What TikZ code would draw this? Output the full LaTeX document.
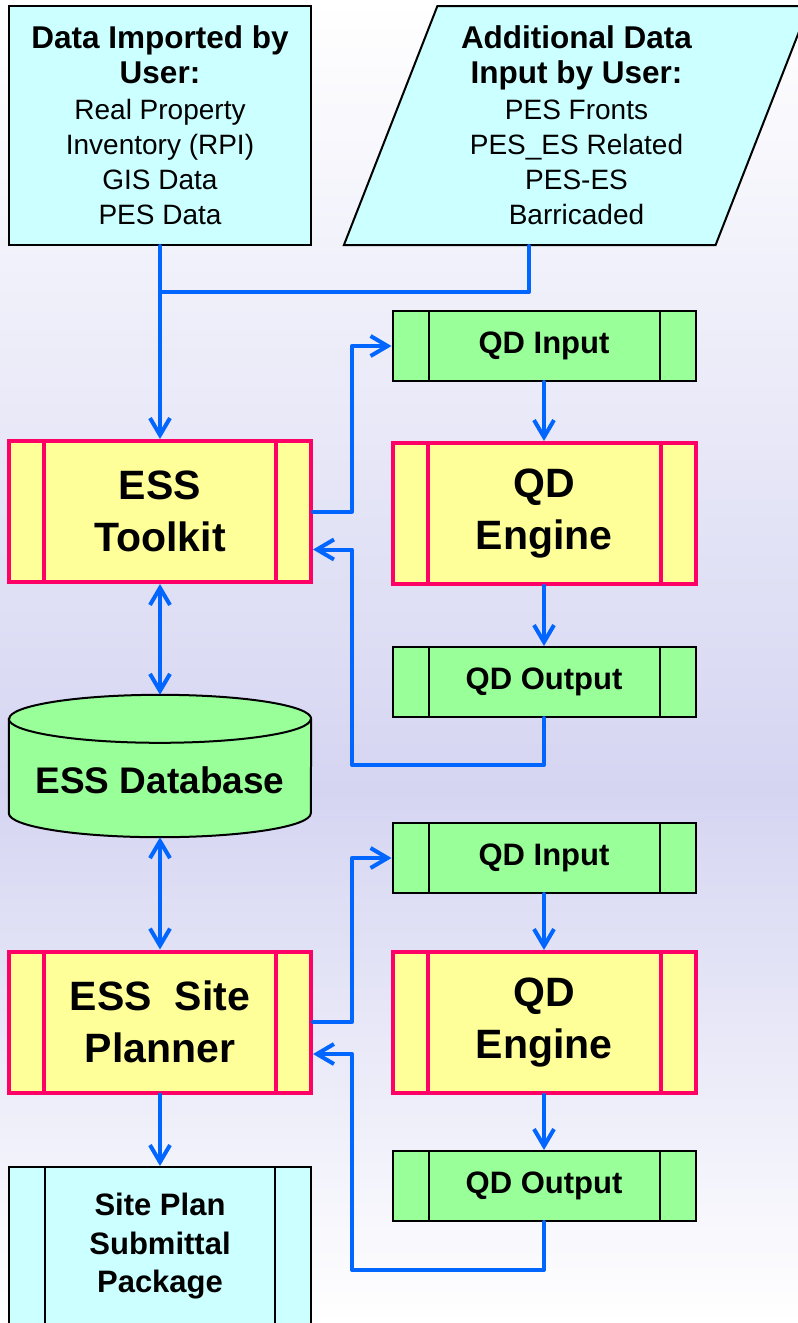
\documentclass[tikz,border=0pt]{standalone}
\usepackage{fontspec}
\setmainfont{Liberation Sans}
\usetikzlibrary{positioning}
\usetikzlibrary{calc}
\usetikzlibrary{arrows.meta}
\usetikzlibrary{shapes.geometric}
\definecolor{flowcolor}{RGB}{0, 102, 255}
\definecolor{modulecolor}{RGB}{255, 0, 102}
\definecolor{modulefill}{RGB}{255, 255, 153}
\definecolor{datafill}{RGB}{204, 255, 255}
\definecolor{qdfill}{RGB}{153, 255, 153}
\definecolor{bgmid}{RGB}{213, 213, 242}
\tikzstyle{flow} = [-{Straight Barb[length=17pt, width=20pt]}, line width=4pt, flowcolor, line cap=round, line join=round]
\tikzstyle{bothflow} = [{Straight Barb[length=17pt, width=20pt]}-{Straight Barb[length=17pt, width=20pt]}, line width=4pt, flowcolor, line cap=round, line join=round]
\tikzstyle{link} = [line width=4pt, flowcolor, line cap=round, line join=round]
\tikzstyle{module} = [draw=modulecolor, line width=4pt, fill=modulefill, minimum width=302, minimum height=141, inner sep=0pt, align=center, font=\fontsize{41}{52}\selectfont\bfseries]
\tikzstyle{modulebar} = [modulecolor, line width=4pt]
\tikzstyle{qdstep} = [draw=black, line width=2pt, fill=qdfill, minimum width=303, minimum height=70, inner sep=0pt, font=\fontsize{31}{38}\selectfont\bfseries]
\tikzstyle{stepbar} = [black, line width=2pt]
\tikzstyle{userdata} = [draw=black, line width=2pt, fill=datafill, inner sep=0pt, align=center, font=\fontsize{28}{35}\selectfont]
\tikzstyle{dbshape} = [draw=black, line width=2pt, fill=qdfill]
\newcommand{\sidebars}[2]{%
	\draw [#2] ([xshift=37]#1.north west) -- ([xshift=37]#1.south west);
	\draw [#2] ([xshift=-37]#1.north east) -- ([xshift=-37]#1.south east);}
\newcommand{\headline}[1]{{\bfseries\fontsize{31.5}{38}\selectfont #1}}

\begin{document}
\begin{tikzpicture}[x=1pt, y=-1pt]
		
		\useasboundingbox (0,0) rectangle (798,1323);
		\clip (0,0) rectangle (798,1323);
		\shade [top color=white, bottom color=bgmid] (0,0) rectangle (798,790);
		\shade [top color=bgmid, bottom color=white] (0,790) rectangle (798,1323);
		
		%
		% User data
		\node [userdata, minimum width=302, minimum height=239] at (160,125.5) (data_import) {\headline{Data Imported by}\\\headline{User:}\\[1pt]Real Property\\Inventory (RPI)\\GIS Data\\PES Data};
		\node [userdata, trapezium, trapezium left angle=68.7, trapezium right angle=111.3, trapezium stretches=true, minimum width=467, minimum height=239] at (576.5,125.5) (data_input) {\headline{Additional Data}\\\headline{Input by User:}\\[1pt]PES Fronts\\PES\_ES Related\\PES-ES\\Barricaded};
		\coordinate (merge) at (160,292);
		
		%
		% First cycle (Toolkit)
		\node [module] at (160,511.5) (toolkit) {ESS\\Toolkit};
		\node [qdstep] at (544,346) (qd_in_a) {QD Input};
		\node [module, minimum width=303] at (544,513.5) (qd_engine_a) {QD\\Engine};
		\node [qdstep] at (544,682) (qd_out_a) {QD Output};
		\coordinate (loop_a) at (352,765);
		\sidebars{toolkit}{modulebar}
		\sidebars{qd_engine_a}{modulebar}
		\sidebars{qd_in_a}{stepbar}
		\sidebars{qd_out_a}{stepbar}
		
		% Database
		\node [minimum width=302, minimum height=142, inner sep=0pt] at (160,766) (db) {};
		\draw [dbshape] ([yshift=-24]db.north west) -- ([yshift=24]db.south west) arc [start angle=180, end angle=360, x radius=151pt, y radius=24pt] -- ([yshift=-24]db.north east) arc [start angle=0, end angle=180, x radius=151pt, y radius=24pt] -- cycle;
		\draw [black, line width=2pt] ([yshift=-24]db.north west) arc [start angle=180, end angle=360, x radius=151pt, y radius=24pt];
		\node [font=\fontsize{37}{44}\selectfont\bfseries] at ([yshift=-14]db.center) (db_label) {ESS Database};
		
		%
		% Second cycle (Site Planner)
		\node [module] at (160,1022) (planner) {ESS\ \ Site\\Planner};
		\node [qdstep] at (544,858) (qd_in_b) {QD Input};
		\node [module, minimum width=303] at (544,1022.5) (qd_engine_b) {QD\\Engine};
		\node [qdstep] at (544,1186) (qd_out_b) {QD Output};
		\coordinate (loop_b) at (352,1270);
		\sidebars{planner}{modulebar}
		\sidebars{qd_engine_b}{modulebar}
		\sidebars{qd_in_b}{stepbar}
		\sidebars{qd_out_b}{stepbar}
		
		% Output package
		\node [userdata, minimum width=302, minimum height=159, font=\fontsize{31}{38.5}\selectfont\bfseries] at (160,1246.5) (site_plan) {Site Plan\\Submittal\\Package};
		\sidebars{site_plan}{stepbar}
		
		%
		% Connectors
		\draw [flow] (data_import) -- (toolkit);
		\draw [link] ([xshift=-47.5]data_input.south) |- (merge);
		
		\draw [flow] (toolkit.east) -- (toolkit.east -| loop_a) |- (qd_in_a.west);
		\draw [flow] (qd_in_a) -- (qd_engine_a);
		\draw [flow] (qd_engine_a) -- (qd_out_a);
		\draw [flow] (qd_out_a.south) |- (loop_a) |- ([yshift=-38]toolkit.east);
		
		\draw [bothflow] (toolkit) -- (db);
		\draw [bothflow] (db) -- (planner);
		
		\draw [flow] (planner.east) -- (planner.east -| loop_b) |- (qd_in_b.west);
		\draw [flow] (qd_in_b) -- (qd_engine_b);
		\draw [flow] (qd_engine_b) -- (qd_out_b);
		\draw [flow] (qd_out_b.south) |- (loop_b) |- ([yshift=-32]planner.east);
		
		\draw [flow] (planner) -- (site_plan);
	
	\end{tikzpicture}
\end{document}
